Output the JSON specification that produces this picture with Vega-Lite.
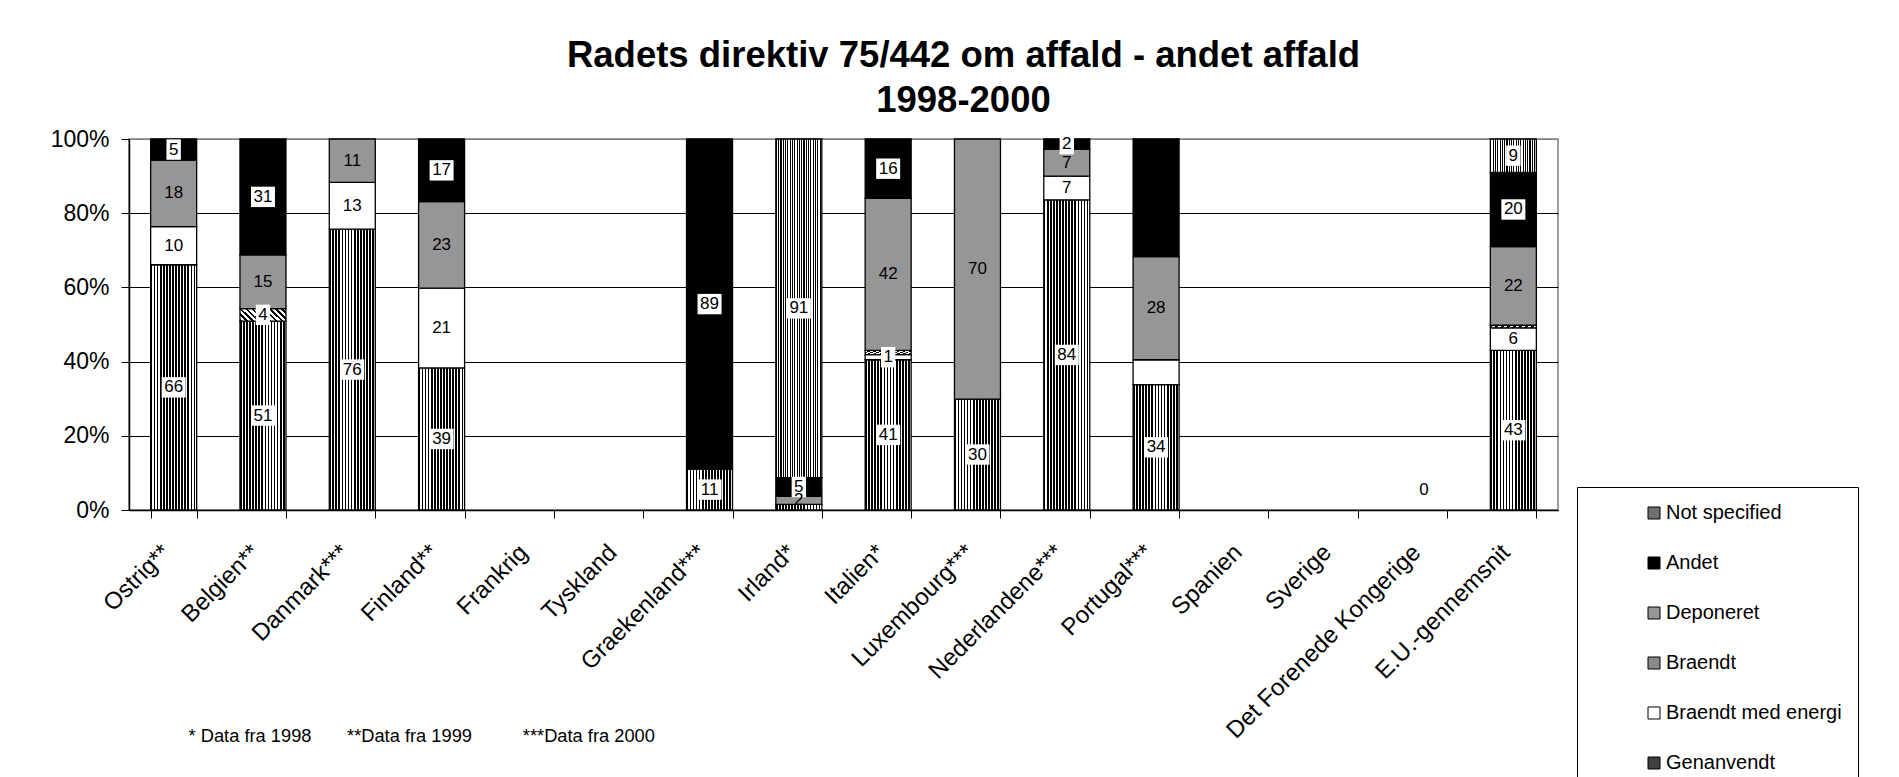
{
  "$schema": "https://vega.github.io/schema/vega-lite/v6.json",
  "width": 1429,
  "height": 371,
  "autosize": "none",
  "padding": {"left": 129, "top": 139, "right": 341, "bottom": 267},
  "background": "#ffffff",
  "config": {
    "font": "Liberation Sans",
    "view": {"stroke": "#808080", "strokeWidth": 1.5}
  },
  "title": {
    "text": ["Radets direktiv 75/442 om affald - andet affald", "1998-2000"],
    "fontSize": 36.5,
    "fontWeight": "bold",
    "font": "Liberation Sans",
    "color": "#000000",
    "lineHeight": 45,
    "anchor": "middle",
    "dx": 120,
    "offset": 9
  },
  "datasets": {
    "rows": [
      {"country": "Ostrig**", "type": "Genanvendt", "value": 66.1, "label": "66"},
      {"country": "Ostrig**", "type": "Braendt med energi", "value": 10.3, "label": "10"},
      {"country": "Ostrig**", "type": "Deponeret", "value": 17.9, "label": "18"},
      {"country": "Ostrig**", "type": "Andet", "value": 5.7, "label": "5"},
      {"country": "Belgien**", "type": "Genanvendt", "value": 50.9, "label": "51"},
      {"country": "Belgien**", "type": "Braendt", "value": 3.4, "label": "4"},
      {"country": "Belgien**", "type": "Deponeret", "value": 14.5, "label": "15"},
      {"country": "Belgien**", "type": "Andet", "value": 31.2, "label": "31"},
      {"country": "Danmark***", "type": "Genanvendt", "value": 75.7, "label": "76"},
      {"country": "Danmark***", "type": "Braendt med energi", "value": 12.6, "label": "13"},
      {"country": "Danmark***", "type": "Deponeret", "value": 11.7, "label": "11"},
      {"country": "Finland**", "type": "Genanvendt", "value": 38.3, "label": "39"},
      {"country": "Finland**", "type": "Braendt med energi", "value": 21.5, "label": "21"},
      {"country": "Finland**", "type": "Deponeret", "value": 23.3, "label": "23"},
      {"country": "Finland**", "type": "Andet", "value": 16.9, "label": "17"},
      {"country": "Graekenland***", "type": "Genanvendt", "value": 11, "label": "11"},
      {"country": "Graekenland***", "type": "Andet", "value": 89, "label": "89"},
      {"country": "Irland*", "type": "Genanvendt", "value": 1.5, "label": ""},
      {"country": "Irland*", "type": "Deponeret", "value": 2.2, "label": "2"},
      {"country": "Irland*", "type": "Andet", "value": 5, "label": "5"},
      {"country": "Irland*", "type": "Not specified", "value": 91.3, "label": "91"},
      {"country": "Italien*", "type": "Genanvendt", "value": 40.5, "label": "41"},
      {"country": "Italien*", "type": "Braendt med energi", "value": 1.4, "label": "1"},
      {"country": "Italien*", "type": "Braendt", "value": 1.1, "label": ""},
      {"country": "Italien*", "type": "Deponeret", "value": 41, "label": "42"},
      {"country": "Italien*", "type": "Andet", "value": 16, "label": "16"},
      {"country": "Luxembourg***", "type": "Genanvendt", "value": 29.9, "label": "30"},
      {"country": "Luxembourg***", "type": "Deponeret", "value": 70.1, "label": "70"},
      {"country": "Nederlandene***", "type": "Genanvendt", "value": 83.6, "label": "84"},
      {"country": "Nederlandene***", "type": "Braendt med energi", "value": 6.4, "label": "7"},
      {"country": "Nederlandene***", "type": "Deponeret", "value": 7.2, "label": "7"},
      {"country": "Nederlandene***", "type": "Andet", "value": 2.8, "label": "2"},
      {"country": "Portugal***", "type": "Genanvendt", "value": 33.8, "label": "34"},
      {"country": "Portugal***", "type": "Braendt med energi", "value": 6.7, "label": ""},
      {"country": "Portugal***", "type": "Deponeret", "value": 27.8, "label": "28"},
      {"country": "Portugal***", "type": "Andet", "value": 31.7, "label": ""},
      {"country": "Det Forenede Kongerige", "type": "Genanvendt", "value": 0, "label": "0"},
      {"country": "E.U.-gennemsnit", "type": "Genanvendt", "value": 43, "label": "43"},
      {"country": "E.U.-gennemsnit", "type": "Braendt med energi", "value": 6.1, "label": "6"},
      {"country": "E.U.-gennemsnit", "type": "Braendt", "value": 0.7, "label": ""},
      {"country": "E.U.-gennemsnit", "type": "Deponeret", "value": 21.2, "label": "22"},
      {"country": "E.U.-gennemsnit", "type": "Andet", "value": 20, "label": "20"},
      {"country": "E.U.-gennemsnit", "type": "Not specified", "value": 9, "label": "9"}
    ],
    "types": [
      {"type": "Genanvendt", "rank": 1},
      {"type": "Braendt med energi", "rank": 2},
      {"type": "Braendt", "rank": 3},
      {"type": "Deponeret", "rank": 4},
      {"type": "Andet", "rank": 5},
      {"type": "Not specified", "rank": 6}
    ]
  },
  "data": {"name": "rows"},
  "transform": [
    {"lookup": "type", "from": {"data": {"name": "types"}, "key": "type", "fields": ["rank"]}}
  ],
  "encoding": {
    "x": {
      "field": "country",
      "type": "nominal",
      "sort": null,
      "scale": {
        "type": "band",
        "domain": ["Ostrig**", "Belgien**", "Danmark***", "Finland**", "Frankrig", "Tyskland", "Graekenland***", "Irland*", "Italien*", "Luxembourg***", "Nederlandene***", "Portugal***", "Spanien", "Sverige", "Det Forenede Kongerige", "E.U.-gennemsnit"],
        "paddingInner": 0.485,
        "paddingOuter": 0.2425
      },
      "axis": {
        "labelAngle": -45,
        "labelAlign": "right",
        "labelBaseline": "top",
        "labelFontSize": 24,
        "labelFont": "Liberation Sans",
        "labelColor": "#000000",
        "labelPadding": 22,
        "labelOffset": -16,
        "labelLimit": 500,
        "labelOverlap": false,
        "tickBand": "extent",
        "tickSize": 8,
        "tickColor": "#000000",
        "domainColor": "#000000",
        "domainWidth": 1.5,
        "grid": false,
        "title": "* Data fra 1998\u00a0\u00a0\u00a0\u00a0\u00a0\u00a0\u00a0**Data fra 1999\u00a0\u00a0\u00a0\u00a0\u00a0\u00a0\u00a0\u00a0\u00a0\u00a0***Data fra 2000",
        "titleX": 59,
        "titleY": 231,
        "titleAlign": "left",
        "titleBaseline": "alphabetic",
        "titleFontSize": 18.3,
        "titleFontWeight": "normal",
        "titleFont": "Liberation Sans",
        "titleColor": "#000000"
      }
    },
    "y": {
      "field": "value",
      "type": "quantitative",
      "stack": "zero",
      "scale": {"domain": [0, 100], "nice": false},
      "axis": {
        "values": [0, 20, 40, 60, 80, 100],
        "labelExpr": "datum.value + '%'",
        "labelFontSize": 23,
        "labelFont": "Liberation Sans",
        "labelColor": "#000000",
        "labelPadding": 12,
        "tickSize": 8,
        "tickColor": "#000000",
        "domainColor": "#000000",
        "domainWidth": 1.5,
        "grid": true,
        "gridColor": {"condition": {"test": "datum.value === 100", "value": "#808080"}, "value": "#000000"},
        "gridWidth": 1,
        "title": null
      }
    },
    "order": {"field": "rank", "type": "quantitative", "sort": "ascending"}
  },
  "layer": [
    {
      "transform": [{"filter": "datum.value > 0"}],
      "mark": {"type": "bar", "stroke": "#000000", "strokeWidth": 1.3},
      "encoding": {
        "fill": {
          "field": "type",
          "type": "nominal",
          "scale": {
            "domain": ["Not specified", "Andet", "Deponeret", "Braendt", "Braendt med energi", "Genanvendt"],
            "range": ["#707070", "#000000", "#969696", "#8a8a8a", "#ffffff", "#404040"]
          },
          "condition": [
            {"test": "datum.type === 'Genanvendt'", "value": {"gradient": "linear", "x1": 0, "y1": 0, "x2": 1, "y2": 0, "stops": [
              {"offset": 0, "color": "#000"}, {"offset": 0.0367, "color": "#000"}, {"offset": 0.0367, "color": "#fff"}, {"offset": 0.0667, "color": "#fff"},
              {"offset": 0.0667, "color": "#000"}, {"offset": 0.1033, "color": "#000"}, {"offset": 0.1033, "color": "#fff"}, {"offset": 0.1333, "color": "#fff"},
              {"offset": 0.1333, "color": "#000"}, {"offset": 0.17, "color": "#000"}, {"offset": 0.17, "color": "#fff"}, {"offset": 0.2, "color": "#fff"},
              {"offset": 0.2, "color": "#000"}, {"offset": 0.2367, "color": "#000"}, {"offset": 0.2367, "color": "#fff"}, {"offset": 0.2667, "color": "#fff"},
              {"offset": 0.2667, "color": "#000"}, {"offset": 0.3033, "color": "#000"}, {"offset": 0.3033, "color": "#fff"}, {"offset": 0.3333, "color": "#fff"},
              {"offset": 0.3333, "color": "#000"}, {"offset": 0.37, "color": "#000"}, {"offset": 0.37, "color": "#fff"}, {"offset": 0.4, "color": "#fff"},
              {"offset": 0.4, "color": "#000"}, {"offset": 0.4367, "color": "#000"}, {"offset": 0.4367, "color": "#fff"}, {"offset": 0.4667, "color": "#fff"},
              {"offset": 0.4667, "color": "#000"}, {"offset": 0.5033, "color": "#000"}, {"offset": 0.5033, "color": "#fff"}, {"offset": 0.5333, "color": "#fff"},
              {"offset": 0.5333, "color": "#000"}, {"offset": 0.57, "color": "#000"}, {"offset": 0.57, "color": "#fff"}, {"offset": 0.6, "color": "#fff"},
              {"offset": 0.6, "color": "#000"}, {"offset": 0.6367, "color": "#000"}, {"offset": 0.6367, "color": "#fff"}, {"offset": 0.6667, "color": "#fff"},
              {"offset": 0.6667, "color": "#000"}, {"offset": 0.7033, "color": "#000"}, {"offset": 0.7033, "color": "#fff"}, {"offset": 0.7333, "color": "#fff"},
              {"offset": 0.7333, "color": "#000"}, {"offset": 0.77, "color": "#000"}, {"offset": 0.77, "color": "#fff"}, {"offset": 0.8, "color": "#fff"},
              {"offset": 0.8, "color": "#000"}, {"offset": 0.8367, "color": "#000"}, {"offset": 0.8367, "color": "#fff"}, {"offset": 0.8667, "color": "#fff"},
              {"offset": 0.8667, "color": "#000"}, {"offset": 0.9033, "color": "#000"}, {"offset": 0.9033, "color": "#fff"}, {"offset": 0.9333, "color": "#fff"},
              {"offset": 0.9333, "color": "#000"}, {"offset": 0.97, "color": "#000"}, {"offset": 0.97, "color": "#fff"}, {"offset": 1, "color": "#fff"}
            ]}},
            {"test": "datum.type === 'Braendt'", "value": {"gradient": "linear", "x1": 0, "y1": 1, "x2": 1.188, "y2": 0.6645, "stops": [
              {"offset": 0, "color": "#000"}, {"offset": 0.045, "color": "#000"}, {"offset": 0.045, "color": "#fff"}, {"offset": 0.1, "color": "#fff"},
              {"offset": 0.1, "color": "#000"}, {"offset": 0.145, "color": "#000"}, {"offset": 0.145, "color": "#fff"}, {"offset": 0.2, "color": "#fff"},
              {"offset": 0.2, "color": "#000"}, {"offset": 0.245, "color": "#000"}, {"offset": 0.245, "color": "#fff"}, {"offset": 0.3, "color": "#fff"},
              {"offset": 0.3, "color": "#000"}, {"offset": 0.345, "color": "#000"}, {"offset": 0.345, "color": "#fff"}, {"offset": 0.4, "color": "#fff"},
              {"offset": 0.4, "color": "#000"}, {"offset": 0.445, "color": "#000"}, {"offset": 0.445, "color": "#fff"}, {"offset": 0.5, "color": "#fff"},
              {"offset": 0.5, "color": "#000"}, {"offset": 0.545, "color": "#000"}, {"offset": 0.545, "color": "#fff"}, {"offset": 0.6, "color": "#fff"},
              {"offset": 0.6, "color": "#000"}, {"offset": 0.645, "color": "#000"}, {"offset": 0.645, "color": "#fff"}, {"offset": 0.7, "color": "#fff"},
              {"offset": 0.7, "color": "#000"}, {"offset": 0.745, "color": "#000"}, {"offset": 0.745, "color": "#fff"}, {"offset": 0.8, "color": "#fff"},
              {"offset": 0.8, "color": "#000"}, {"offset": 0.845, "color": "#000"}, {"offset": 0.845, "color": "#fff"}, {"offset": 0.9, "color": "#fff"},
              {"offset": 0.9, "color": "#000"}, {"offset": 0.945, "color": "#000"}, {"offset": 0.945, "color": "#fff"}, {"offset": 1, "color": "#fff"}
            ]}},
            {"test": "datum.type === 'Not specified'", "value": {"gradient": "linear", "x1": 0, "y1": 0, "x2": 1, "y2": 0, "stops": [
              {"offset": 0, "color": "#000"}, {"offset": 0.025, "color": "#000"}, {"offset": 0.025, "color": "#fff"}, {"offset": 0.05, "color": "#fff"},
              {"offset": 0.05, "color": "#000"}, {"offset": 0.075, "color": "#000"}, {"offset": 0.075, "color": "#fff"}, {"offset": 0.1, "color": "#fff"},
              {"offset": 0.1, "color": "#000"}, {"offset": 0.125, "color": "#000"}, {"offset": 0.125, "color": "#fff"}, {"offset": 0.15, "color": "#fff"},
              {"offset": 0.15, "color": "#000"}, {"offset": 0.175, "color": "#000"}, {"offset": 0.175, "color": "#fff"}, {"offset": 0.2, "color": "#fff"},
              {"offset": 0.2, "color": "#000"}, {"offset": 0.225, "color": "#000"}, {"offset": 0.225, "color": "#fff"}, {"offset": 0.25, "color": "#fff"},
              {"offset": 0.25, "color": "#000"}, {"offset": 0.275, "color": "#000"}, {"offset": 0.275, "color": "#fff"}, {"offset": 0.3, "color": "#fff"},
              {"offset": 0.3, "color": "#000"}, {"offset": 0.325, "color": "#000"}, {"offset": 0.325, "color": "#fff"}, {"offset": 0.35, "color": "#fff"},
              {"offset": 0.35, "color": "#000"}, {"offset": 0.375, "color": "#000"}, {"offset": 0.375, "color": "#fff"}, {"offset": 0.4, "color": "#fff"},
              {"offset": 0.4, "color": "#000"}, {"offset": 0.425, "color": "#000"}, {"offset": 0.425, "color": "#fff"}, {"offset": 0.45, "color": "#fff"},
              {"offset": 0.45, "color": "#000"}, {"offset": 0.475, "color": "#000"}, {"offset": 0.475, "color": "#fff"}, {"offset": 0.5, "color": "#fff"},
              {"offset": 0.5, "color": "#000"}, {"offset": 0.525, "color": "#000"}, {"offset": 0.525, "color": "#fff"}, {"offset": 0.55, "color": "#fff"},
              {"offset": 0.55, "color": "#000"}, {"offset": 0.575, "color": "#000"}, {"offset": 0.575, "color": "#fff"}, {"offset": 0.6, "color": "#fff"},
              {"offset": 0.6, "color": "#000"}, {"offset": 0.625, "color": "#000"}, {"offset": 0.625, "color": "#fff"}, {"offset": 0.65, "color": "#fff"},
              {"offset": 0.65, "color": "#000"}, {"offset": 0.675, "color": "#000"}, {"offset": 0.675, "color": "#fff"}, {"offset": 0.7, "color": "#fff"},
              {"offset": 0.7, "color": "#000"}, {"offset": 0.725, "color": "#000"}, {"offset": 0.725, "color": "#fff"}, {"offset": 0.75, "color": "#fff"},
              {"offset": 0.75, "color": "#000"}, {"offset": 0.775, "color": "#000"}, {"offset": 0.775, "color": "#fff"}, {"offset": 0.8, "color": "#fff"},
              {"offset": 0.8, "color": "#000"}, {"offset": 0.825, "color": "#000"}, {"offset": 0.825, "color": "#fff"}, {"offset": 0.85, "color": "#fff"},
              {"offset": 0.85, "color": "#000"}, {"offset": 0.875, "color": "#000"}, {"offset": 0.875, "color": "#fff"}, {"offset": 0.9, "color": "#fff"},
              {"offset": 0.9, "color": "#000"}, {"offset": 0.925, "color": "#000"}, {"offset": 0.925, "color": "#fff"}, {"offset": 0.95, "color": "#fff"},
              {"offset": 0.95, "color": "#000"}, {"offset": 0.975, "color": "#000"}, {"offset": 0.975, "color": "#fff"}, {"offset": 1, "color": "#fff"}
            ]}}
          ],
          "legend": {
            "orient": "none",
            "legendX": 1448,
            "legendY": 348,
            "title": null,
            "symbolType": "square",
            "symbolSize": 144,
            "symbolStrokeColor": "#000000",
            "symbolStrokeWidth": 1,
            "symbolOffset": 51,
            "labelOffset": 2,
            "labelFontSize": 20,
            "labelFont": "Liberation Sans",
            "labelColor": "#000000",
            "labelLimit": 500,
            "labelExpr": "datum.label + '\u00a0\u00a0\u00a0\u00a0\u00a0\u00a0\u00a0\u00a0\u00a0\u00a0\u00a0\u00a0\u00a0\u00a0\u00a0\u00a0'",
            "rowPadding": 30,
            "padding": 16,
            "strokeColor": "#000000",
            "fillColor": "#ffffff"
          }
        }
      }
    },
    {
      "transform": [{"filter": "datum.value > 0"}],
      "mark": {"type": "point", "filled": true, "opacity": 1, "strokeWidth": 0},
      "encoding": {
        "y": {"field": "value", "type": "quantitative", "stack": "zero", "bandPosition": 0.5},
        "detail": {"field": "type", "type": "nominal"},
        "fill": {"condition": {"test": "datum.label !== '' && datum.type !== 'Deponeret'", "value": "#ffffff"}, "value": "transparent"},
        "shape": {"condition": {"test": "length(datum.label) > 1", "value": "M-1,-0.85H1V0.85H-1Z"}, "value": "M-0.6,-0.85H0.6V0.85H-0.6Z"},
        "size": {"value": 576}
      }
    },
    {
      "transform": [{"filter": "datum.value > 0"}],
      "mark": {"type": "text", "fontSize": 17, "font": "Liberation Sans", "baseline": "middle", "align": "center", "color": "#000000"},
      "encoding": {
        "y": {"field": "value", "type": "quantitative", "stack": "zero", "bandPosition": 0.5},
        "detail": {"field": "type", "type": "nominal"},
        "text": {"field": "label"}
      }
    },
    {
      "transform": [{"filter": "datum.value === 0"}],
      "mark": {"type": "text", "fontSize": 17, "font": "Liberation Sans", "baseline": "middle", "align": "center", "dy": -20, "color": "#000000"},
      "encoding": {
        "y": {"field": "value", "type": "quantitative"},
        "text": {"field": "label"}
      }
    }
  ]
}
